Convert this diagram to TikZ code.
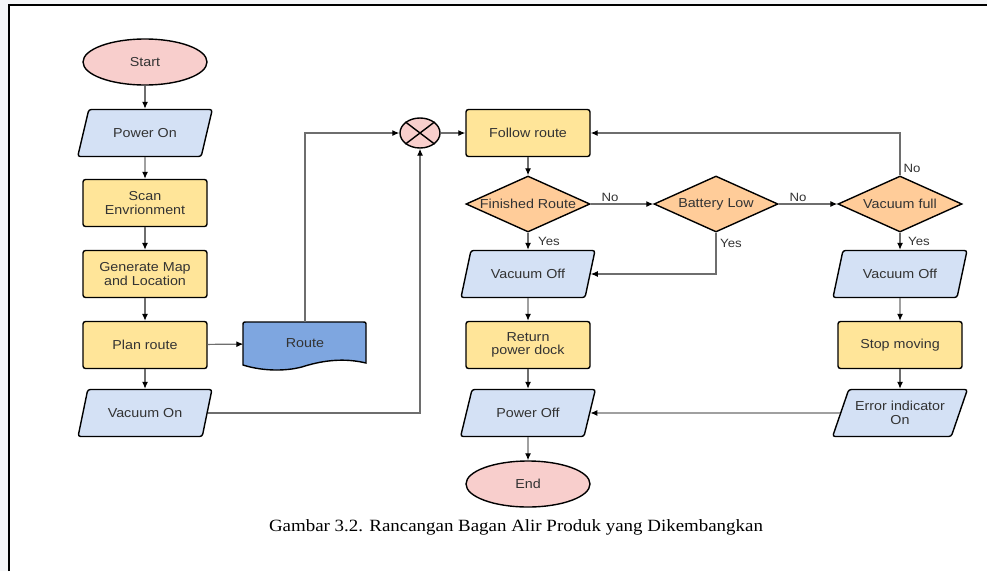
\documentclass[tikz,border=0pt]{standalone}
\usepackage{fontspec}
\setmainfont{Liberation Sans}
\newfontfamily\capfont[FakeStretch=1.1]{Liberation Serif}
\newfontfamily\dfont[FakeStretch=1.1]{Liberation Sans}
\usetikzlibrary{shapes.geometric,arrows.meta,calc}
\definecolor{pinkf}{HTML}{F8CECC}
\definecolor{yelf}{HTML}{FFE599}
\definecolor{bluef}{HTML}{D4E1F5}
\definecolor{orf}{HTML}{FFCC99}
\definecolor{docf}{HTML}{7EA6E0}
\definecolor{txt}{HTML}{333333}
\definecolor{lgray}{HTML}{6E6E6E}
\definecolor{outbg}{HTML}{F5F6F8}
\begin{document}
\begin{tikzpicture}[x=1pt,y=-1pt,
 base/.style={draw=black, line width=1.4pt, font=\dfont\fontsize{13}{13.5}\selectfont, text=txt, align=center, inner sep=1pt},
 term/.style={base, ellipse, fill=pinkf, minimum width=124pt, minimum height=46pt},
 proc/.style={base, rectangle, rounded corners=2.5pt, fill=yelf, minimum width=124pt, minimum height=47pt},
 io/.style={base, trapezium, trapezium left angle=60, trapezium right angle=120, trapezium stretches=true, rounded corners=2.5pt, fill=bluef, minimum width=135pt, minimum height=47pt},
 dec/.style={base, diamond, fill=orf, minimum width=124pt, minimum height=56pt, aspect=2.2, inner sep=0pt},
 conn/.style={draw=lgray, line width=1.2pt, -{Latex[length=7pt,width=6pt,fill=black,color=black]}},
 lab/.style={font=\dfont\fontsize{12}{13}\selectfont, text=txt, inner sep=1pt}
]
\useasboundingbox (0,0) rectangle (987,571);
\fill[outbg] (0,0) rectangle (987,571);
\fill[white] (9,5) rectangle (987,571);
\draw[black, line width=2.5pt] (9,571) -- (9,5) -- (987,5);

% left column
\node[term] (start) at (145,62) {Start};
\node[io] (pon) at (145,133) {Power On};
\node[proc] (scan) at (145,203) {Scan\\Envrionment};
\node[proc] (gen) at (145,274) {Generate Map\\and Location};
\node[proc] (plan) at (145,345) {Plan route};
\node[io] (von) at (145,413) {Vacuum On};

% route document
\draw[black, line width=1.4pt, fill=docf] (243,365) -- (243,326) .. controls (243,322) .. (247,322) -- (362,322) .. controls (366,322) .. (366,326) -- (366,363) .. controls (345,358) and (325,360) .. (305,366) .. controls (290,371) and (265,372) .. (243,365) -- cycle;
\node[font=\dfont\fontsize{13}{13.5}\selectfont, text=txt, minimum width=123pt, minimum height=43pt, inner sep=0] (route) at (305,343.5) {Route};

% junction
\node[draw=black, line width=1.4pt, ellipse, fill=pinkf, minimum width=40pt, minimum height=30pt, inner sep=0] (xor) at (420,133) {};
\draw[black, line width=1.4pt] (xor.north west) -- (xor.south east) (xor.north east) -- (xor.south west);

% middle column
\node[proc] (follow) at (528,133) {Follow route};
\node[dec] (fin) at (528,204) {Finished Route};
\node[io] (voffL) at (528,274) {Vacuum Off};
\node[proc] (ret) at (528,345) {Return\\power dock};
\node[io] (poff) at (528,413) {Power Off};
\node[term] (end) at (528,484) {End};

% decisions right
\node[dec] (bat) at (716,204) {Battery Low};
\node[dec] (vf) at (900,204) {Vacuum full};
\node[io] (voffR) at (900,274) {Vacuum Off};
\node[proc] (stop) at (900,345) {Stop moving};
\node[io] (err) at (900,413) {Error indicator\\On};

% caption
\node[font=\capfont\fontsize{17.2}{20}\selectfont, text=black] (cap) at (516,527) {Gambar 3.2. Rancangan Bagan Alir Produk yang Dikembangkan};

% connectors left
\draw[conn] (start) -- (pon);
\draw[conn] (pon) -- (scan);
\draw[conn] (scan) -- (gen);
\draw[conn] (gen) -- (plan);
\draw[conn] (plan) -- (von);
\draw[conn] (plan) -- (route);
\draw[conn] (route.north) |- (xor.west);
\draw[conn] (von.east) -| (xor.south);
\draw[conn] (xor) -- (follow);

% middle
\draw[conn] (follow) -- (fin);
\draw[conn] (fin) -- (voffL);
\draw[conn] (voffL) -- (ret);
\draw[conn] (ret) -- (poff);
\draw[conn] (poff) -- (end);
\draw[conn] (fin) -- (bat);
\draw[conn] (bat) -- (vf);
\draw[conn] (bat.south) |- (voffL.east);
\draw[conn] (vf.north) |- (follow.east);
\draw[conn] (vf) -- (voffR);
\draw[conn] (voffR) -- (stop);
\draw[conn] (stop) -- (err);
\draw[conn] (err.west) -- (poff.east);

% labels
\node[lab] (l1) at (610,197) {No};
\node[lab] (l2) at (798,197) {No};
\node[lab] (l3) at (912,168) {No};
\node[lab] (l4) at (549,241) {Yes};
\node[lab] (l5) at (731,243) {Yes};
\node[lab] (l6) at (919,241) {Yes};
\end{tikzpicture}
\end{document}
